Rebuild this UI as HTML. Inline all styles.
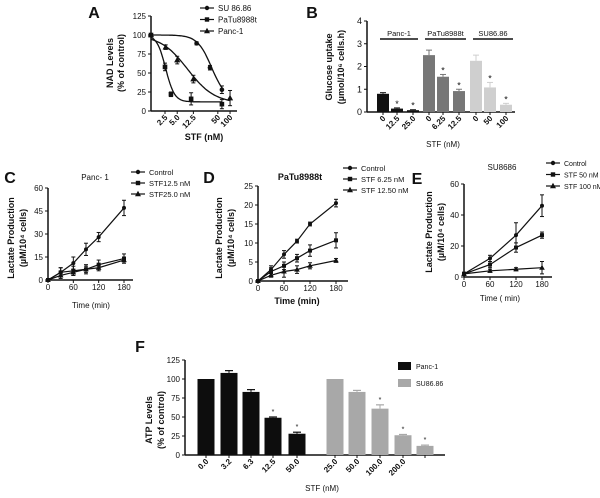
<!DOCTYPE html>
<html><head><meta charset="utf-8">
<style>
html,body{margin:0;padding:0;background:#fff;}
svg{display:block;font-family:"Liberation Sans",sans-serif;}
text{fill:#111;}
.lt{font-size:16px;font-weight:bold;}
.tk{font-size:8px;}
.al{font-size:9px;font-weight:bold;}
</style></head>
<body>
<svg id="fig" width="600" height="498" viewBox="0 0 600 498"></svg>
<script>
// ---------- Panel A data ----------
const aSeriesNames = ["SU 86.86","PaTu8988t","Panc-1"];
const aSuConc = [1.13,15,32,63];
const aSuVals = [100,89,57,28];
const aSuErr = [0,2,3,5];
const aPaConc = [1.13,2.5,3.5,11,63];
const aPaVals = [100,58,22,16,9];
const aPaErr = [0,5,3,8,6];
const aPcConc = [1.13,2.6,5,12.5,100];
const aPcVals = [100,84,67,42,17];
const aPcErr = [0,3,5,5,10];
const aFitBottom = [15,12,10];
const aFitIC50 = [35,2.6,9];
const aFitHill = [2.5,4,1.3];
const aTicks = ["2.5","5.0","12.5","50","100"];
const aTickConc = [2.5,5,12.5,50,100];
const aYTicks = [0,25,50,75,100,125];
// ---------- Panel B data ----------
const bLabels = ["0","12.5","25.0","0","6.25","12.5","0","50","100"];
const bVals = [0.8,0.15,0.08,2.5,1.55,0.92,2.25,1.08,0.32];
const bErr = [0.05,0.03,0.02,0.22,0.1,0.08,0.25,0.22,0.06];
const bStar = [0,1,1,0,1,1,0,1,1];
const bGroup = [0,0,0,1,1,1,2,2,2];
const bGroupNames = ["Panc-1","PaTu8988t","SU86.86"];
const bYTicks = [0,1,2,3,4];
// ---------- Panel C data ----------
const cTimes = [0,30,60,90,120,180];
const cControl = [0,5,11,20,28,47];
const cStf125 = [0,5,6,7,10,14];
const cStf25 = [0,3,5,7,8,13];
const cErr = [[0,3,4,4,3,5],[0,3,3,3,3,3],[0,2,2,2,2,2]];
const cYTicks = [0,15,30,45,60];
// ---------- Panel D data ----------
const dTimes = [0,30,60,90,120,180];
const dControl = [0,3,7,10.5,15,20.5];
const dStf625 = [0,2.5,4,6,8,10.7];
const dStf125 = [0,1.5,2.5,3,4,5.4];
const dErr = [[0,1,1,0.5,0.5,1],[0,1,1,1,1.5,2],[0,0.5,1.5,1,0.8,0.5]];
const dYTicks = [0,5,10,15,20,25];
// ---------- Panel E data ----------
const eTimes = [0,60,120,180];
const eControl = [2,12,27,46];
const eStf50 = [2,8,19,27];
const eStf100 = [2,4,5,6];
const eErr = [[1,2,8,7],[1,2,3,2],[1,1,1,4]];
const eYTicks = [0,20,40,60];
const timeTicks = [0,60,120,180];
// ---------- Panel F data ----------
const fLabels = ["0.0","3.2","6.3","12.5","50.0","25.0","50.0","100.0","200.0",""];
const fVals = [100,108,83,49,28,100,83,61,26,12];
const fErr = [0,3,3,1,2,0,2,5,1,1];
const fStar = [0,0,0,1,1,0,0,1,1,1];
const fGroup = [0,0,0,0,0,1,1,1,1,1];
const fYTicks = [0,25,50,75,100,125];

const NS="http://www.w3.org/2000/svg";
const svg=document.getElementById('fig');
function mk(tag,attrs,parent,txt){const e=document.createElementNS(NS,tag);for(const k in attrs)e.setAttribute(k,attrs[k]);if(txt!==undefined)e.textContent=txt;(parent||svg).appendChild(e);return e;}
function grp(name){const g=mk('g',{});return g;}
function marker(g,type,x,y,s){
  let m;
  if(type===0)m=mk('circle',{cx:x,cy:y,r:s},g);
  else if(type===1)m=mk('rect',{x:x-s,y:y-s,width:2*s,height:2*s},g);
  else m=mk('polygon',{points:`${x},${y-s-1} ${x-s-0.8},${y+s} ${x+s+0.8},${y+s}`},g);
  m.setAttribute('fill','#111');
  return m;
}
function errbar(g,x,y1,y2,w){
  mk('line',{x1:x,y1:y1,x2:x,y2:y2,stroke:'#111','stroke-width':1},g);
  mk('line',{x1:x-w,y1:y1,x2:x+w,y2:y1,stroke:'#111','stroke-width':1},g);
  mk('line',{x1:x-w,y1:y2,x2:x+w,y2:y2,stroke:'#111','stroke-width':1},g);
}
function yaxis(g,x,ticks,ys,top,bottom,fs){
  mk('line',{x1:x,y1:top,x2:x,y2:bottom,stroke:'#111','stroke-width':1.5},g);
  ticks.forEach(t=>{const y=ys(t);mk('line',{x1:x-3,y1:y,x2:x,y2:y,stroke:'#111','stroke-width':1},g);
    const tt=mk('text',{x:x-5,y:y+3,'text-anchor':'end','font-size':fs||8},g,String(t));});
}
function legend(x,y0,dy,names,name,fs){
  const g=grp(name);
  names.forEach((n,i)=>{const y=y0+i*dy;mk('line',{x1:x,y1:y,x2:x+14,y2:y,stroke:'#111','stroke-width':1.2},g);marker(g,i,x+7,y,2.2);
    const t=mk('text',{x:x+18,y:y+3,'font-size':fs||8},g,n);});
}
function label(x,y,txt,cls,name,rot,anchor){
  const t=mk('text',{x:x,y:y,class:cls,'text-anchor':anchor||'middle'},svg,txt);
  if(rot)t.setAttribute('transform',`rotate(${rot} ${x} ${y})`);
  return t;
}

// ===== Panel A =====
(function(){
  const g=grp('panel-a-chart');
  const xs=c=>165+(Math.log10(c)-Math.log10(2.5))*40.6;
  const ys=v=>111-v*0.76;
  yaxis(g,151,aYTicks,ys,ys(125),111);
  mk('line',{x1:151,y1:111,x2:237,y2:111,stroke:'#111','stroke-width':1.5},g);
  aTickConc.forEach((c,i)=>{const x=xs(c);mk('line',{x1:x,y1:111,x2:x,y2:114,stroke:'#111'},g);
    const t=mk('text',{x:x+3,y:118,'text-anchor':'end','font-size':8,'font-weight':'bold',transform:`rotate(-45 ${x+3} 118)`},g,aTicks[i]);
    });
  const sets=[[aSuConc,aSuVals,aSuErr],[aPaConc,aPaVals,aPaErr],[aPcConc,aPcVals,aPcErr]];
  sets.forEach((s,k)=>{
    const c0=s[0][0],c1=s[0][s[0].length-1];let d='';
    for(let i=0;i<=60;i++){const c=Math.pow(10,Math.log10(c0)+(Math.log10(c1)-Math.log10(c0))*i/60);
      const v=aFitBottom[k]+(100-aFitBottom[k])/(1+Math.pow(c/aFitIC50[k],aFitHill[k]));d+=(i?'L':'M')+xs(c).toFixed(1)+','+ys(v).toFixed(1);}
    const p=mk('path',{d:d,fill:'none',stroke:'#111','stroke-width':1.3},g);
    
    s[0].forEach((c,i)=>{const x=xs(c);if(s[2][i])errbar(g,x,ys(s[1][i]+s[2][i]),ys(s[1][i]-s[2][i]),2);marker(g,k,x,ys(s[1][i]),2.3);});
  });
  legend(200,8,11.5,aSeriesNames,'panel-a-legend',8);
})();
label(94,18,'A','lt','panel-a-letter');
label(113,63,'NAD Levels','al','panel-a-y-title',-90);
label(124,63,'(% of control)','al','panel-a-y-title-2',-90);
label(204,140,'STF  (nM)','al','panel-a-x-title');

// ===== Panel B =====
(function(){
  const g=grp('panel-b-chart');
  const ys=v=>112-v*22.75;
  const cols=['#111','#777','#cfcfcf'];
  const cx=[383,397,413,429,443,459,476,490,506];
  yaxis(g,367,bYTicks,ys,ys(4),112,9);
  mk('line',{x1:367,y1:112,x2:515,y2:112,stroke:'#111','stroke-width':1.5},g);
  bVals.forEach((v,i)=>{const x=cx[i];
    const r=mk('rect',{x:x-6,y:ys(v),width:12,height:112-ys(v),fill:cols[bGroup[i]]},g);
    
    mk('line',{x1:x,y1:ys(v),x2:x,y2:ys(v+bErr[i]),stroke:cols[bGroup[i]],'stroke-width':1},g);
    mk('line',{x1:x-3,y1:ys(v+bErr[i]),x2:x+3,y2:ys(v+bErr[i]),stroke:cols[bGroup[i]],'stroke-width':1},g);
    if(bStar[i])mk('text',{x:x,y:ys(v+bErr[i])-1,'text-anchor':'middle','font-size':9},g,'*');
    mk('line',{x1:x,y1:112,x2:x,y2:115,stroke:'#111'},g);
    const t=mk('text',{x:x+3,y:119,'text-anchor':'end','font-size':8,'font-weight':'bold',transform:`rotate(-45 ${x+3} 119)`},g,bLabels[i]);
    
  });
  const gl=[[380,418],[425,466],[473,513]];
  gl.forEach((l,i)=>{mk('line',{x1:l[0],y1:39,x2:l[1],y2:39,stroke:'#111','stroke-width':1.5},g);
    const t=mk('text',{x:(l[0]+l[1])/2,y:36,'text-anchor':'middle','font-size':7.5},g,bGroupNames[i]);
    });
})();
label(312,18,'B','lt','panel-b-letter');
label(332,67,'Glucose uptake','al','panel-b-y-title',-90);
label(344,67,'(µmol/10⁶ cells.h)','al','panel-b-y-title-2',-90);
label(443,147,'STF (nM)','tk','panel-b-x-title');

// ===== Line panels =====
function linePanel(name,x0,x1,axEnd,y0,yTop,ymax,yTicks,times,tmax,series,errs){
  const g=grp(name);
  const xs=t=>x0+(x1-x0)*t/tmax;
  const ys=v=>y0-(y0-yTop)*v/ymax;
  yaxis(g,x0,yTicks,ys,yTop,y0);
  mk('line',{x1:x0,y1:y0,x2:axEnd,y2:y0,stroke:'#111','stroke-width':1.5},g);
  timeTicks.forEach(t=>{const x=xs(t);mk('line',{x1:x,y1:y0,x2:x,y2:y0+3,stroke:'#111'},g);
    const tt=mk('text',{x:x,y:y0+10,'text-anchor':'middle','font-size':8},g,String(t));});
  series.forEach((s,k)=>{
    const p=mk('polyline',{points:s.map((v,i)=>xs(times[i])+','+ys(v)).join(' '),fill:'none',stroke:'#111','stroke-width':1.2},g);
    
    s.forEach((v,i)=>{const x=xs(times[i]);if(errs[k][i])errbar(g,x,ys(v+errs[k][i]),ys(Math.max(0,v-errs[k][i])),2);marker(g,k,x,ys(v),2);});
  });
}
linePanel('panel-c-chart',48,124,133,280,188,60,cYTicks,cTimes,180,[cControl,cStf125,cStf25],cErr);
legend(131,172,11,['Control','STF12.5 nM','STF25.0 nM'],'panel-c-legend',7.5);
label(10,183,'C','lt','panel-c-letter');
label(95,180,'Panc- 1','tk','panel-c-title');
label(14,238,'Lactate Production','al','panel-c-y-title',-90);
label(26,238,'(µM/10⁴ cells)','al','panel-c-y-title-2',-90);
label(91,308,'Time (min)','tk','panel-c-x-title');

linePanel('panel-d-chart',258,336,348,281,186,25,dYTicks,dTimes,180,[dControl,dStf625,dStf125],dErr);
legend(343,168,11,['Control','STF 6.25 nM','STF 12.50 nM'],'panel-d-legend',7.5);
label(209,183,'D','lt','panel-d-letter');
label(300,180,'PaTu8988t','al','panel-d-title');
label(222,238,'Lactate Production','al','panel-d-y-title',-90);
label(234,238,'(µM/10⁴ cells)','al','panel-d-y-title-2',-90);
label(297,304,'Time (min)','al','panel-d-x-title');

linePanel('panel-e-chart',464,542,552,277,184,60,eYTicks,eTimes,180,[eControl,eStf50,eStf100],eErr);
legend(546,163,11.5,['Control','STF 50 nM','STF 100 nM'],'panel-e-legend',7);
label(417,184,'E','lt','panel-e-letter');
label(502,170,'SU8686','tk','panel-e-title');
label(432,232,'Lactate Production','al','panel-e-y-title',-90);
label(444,232,'(µM/10⁴ cells)','al','panel-e-y-title-2',-90);
label(500,301,'Time ( min)','tk','panel-e-x-title');

// ===== Panel F =====
(function(){
  const g=grp('panel-f-chart');
  const ys=v=>455-v*0.76;
  const cols=['#0d0d0d','#a8a8a8'];
  const cx=[206,229,251,273,297,335,357,380,403,425];
  yaxis(g,185,fYTicks,ys,ys(125),455);
  mk('line',{x1:185,y1:455,x2:445,y2:455,stroke:'#111','stroke-width':1.5},g);
  fVals.forEach((v,i)=>{const x=cx[i];
    const r=mk('rect',{x:x-8.5,y:ys(v),width:17,height:455-ys(v),fill:cols[fGroup[i]]},g);
    
    if(fErr[i]){mk('line',{x1:x,y1:ys(v),x2:x,y2:ys(v+fErr[i]),stroke:cols[fGroup[i]]},g);
      mk('line',{x1:x-4,y1:ys(v+fErr[i]),x2:x+4,y2:ys(v+fErr[i]),stroke:cols[fGroup[i]],'stroke-width':1.2},g);}
    if(fStar[i])mk('text',{x:x,y:ys(v+fErr[i])-3,'text-anchor':'middle','font-size':7},g,'*');
    mk('line',{x1:x,y1:455,x2:x,y2:458,stroke:'#111'},g);
    const t=mk('text',{x:x+3,y:462,'text-anchor':'end','font-size':8,'font-weight':'bold',transform:`rotate(-45 ${x+3} 462)`},g,fLabels[i]);
    
  });
  const lg=grp('panel-f-legend');
  [['Panc-1',366],['SU86.86',383]].forEach((e,i)=>{mk('rect',{x:398,y:e[1]-4,width:13,height:8,fill:cols[i]},lg);
    const t=mk('text',{x:416,y:e[1]+3,'font-size':7},lg,e[0]);});
})();
label(140,352,'F','lt','panel-f-letter');
label(152,420,'ATP Levels','al','panel-f-y-title',-90);
label(164,420,'(% of control)','al','panel-f-y-title-2',-90);
label(322,491,'STF (nM)','tk','panel-f-x-title');
</script>
</body></html>
